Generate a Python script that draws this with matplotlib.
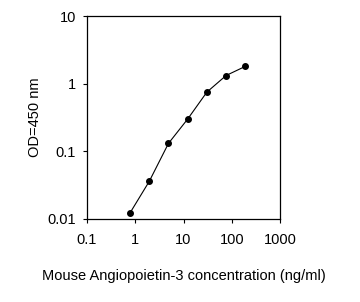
import numpy as np
import matplotlib
matplotlib.use("Agg")
import matplotlib.pyplot as plt
from matplotlib.ticker import FixedLocator, FixedFormatter, NullLocator

# standard curve: concentration (ng/ml) vs OD at 450 nm
conc = [0.78, 1.95, 4.88, 12.2, 30.5, 76.3, 190.7]
od   = [0.0123, 0.036, 0.131, 0.30, 0.75, 1.32, 1.8]

x_ticks  = [0.1, 1, 10, 100, 1000]
x_labels = ["0.1", "1", "10", "100", "1000"]
y_ticks  = [0.01, 0.1, 1, 10]
y_labels = ["0.01", "0.1", "1", "10"]

plt.rcParams['font.family'] = ['Liberation Sans', 'DejaVu Sans']
font_size = 10.5

fig = plt.figure(figsize=(3.6, 3.02), dpi=100)
ax = fig.add_axes([87/360, 83/302, 193/360, 203/302])

ax.plot(conc, od, color="black", lw=0.8, marker="o", ms=4, mfc="black", mec="black")

ax.set_xscale("log")
ax.set_yscale("log")
ax.set_xlim(0.1, 1000)
ax.set_ylim(0.01, 10)

ax.xaxis.set_major_locator(FixedLocator(x_ticks))
ax.xaxis.set_major_formatter(FixedFormatter(x_labels))
ax.yaxis.set_major_locator(FixedLocator(y_ticks))
ax.yaxis.set_major_formatter(FixedFormatter(y_labels))
ax.xaxis.set_minor_locator(NullLocator())
ax.yaxis.set_minor_locator(NullLocator())

ax.tick_params(direction="out", length=3, width=0.8, labelsize=font_size)
ax.tick_params(axis="x", pad=7)
ax.tick_params(axis="y", pad=5)
for s in ax.spines.values():
    s.set_linewidth(0.9)

ax.set_xlabel("Mouse Angiopoietin-3 concentration (ng/ml)", fontsize=font_size, labelpad=16)
ax.set_ylabel("OD=450 nm", fontsize=font_size, labelpad=4)

fig.savefig("out.png", dpi=100)
